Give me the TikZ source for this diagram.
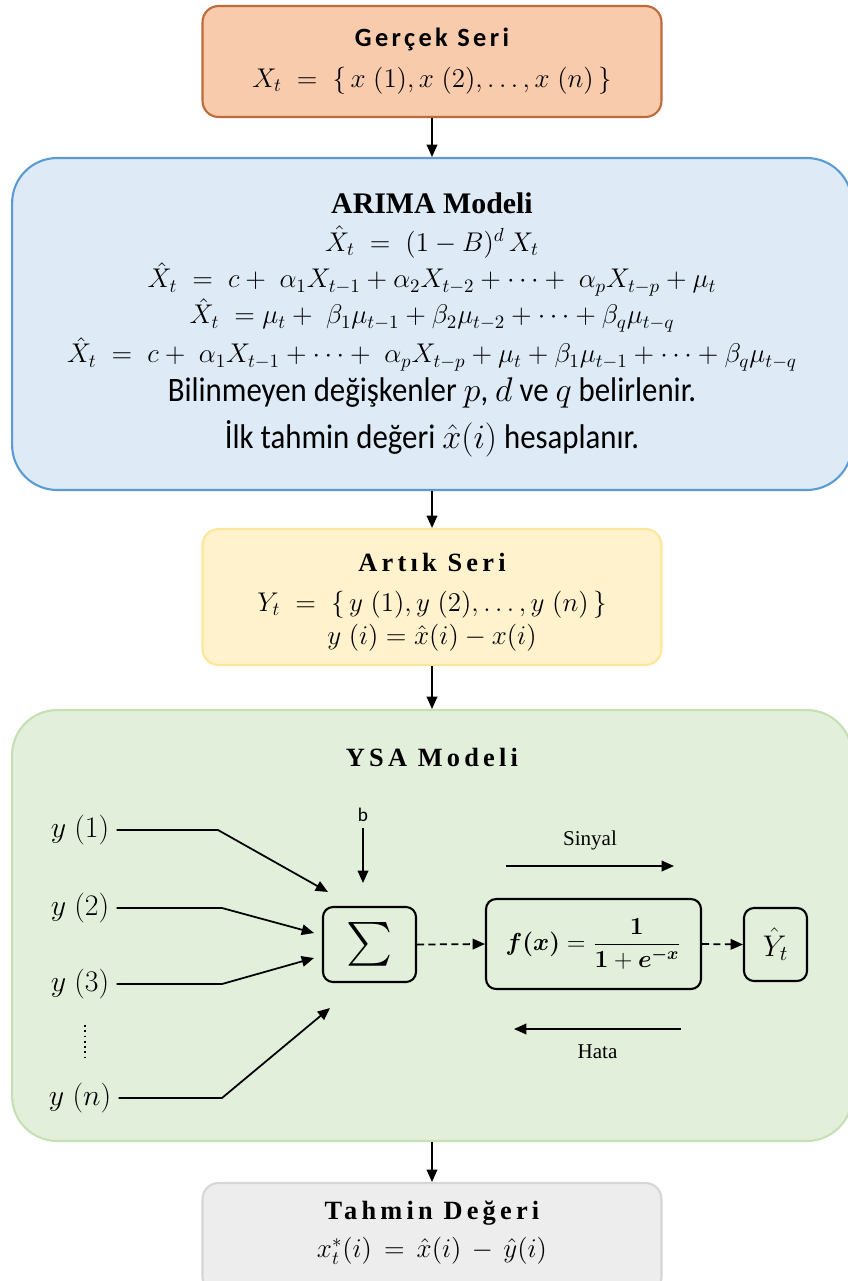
\RequirePackage{fix-cm}
\documentclass[tikz,border=0pt]{standalone}
\usepackage[no-math]{fontspec}
\usepackage{amsmath}
\usetikzlibrary{arrows.meta}

\setmainfont{Carlito}
\newfontfamily\titulosans[LetterSpace=13]{Carlito}
\newfontfamily\tituloserif[LetterSpace=16]{Liberation Serif}
\newfontfamily\serifa{Liberation Serif}
\newfontfamily\estreita[FakeStretch=0.9]{Carlito}

\definecolor{laranja}{HTML}{F8CBAD}
\definecolor{laranjaborda}{HTML}{C0693A}
\definecolor{azul}{HTML}{DEEBF7}
\definecolor{azulborda}{HTML}{5B9BD5}
\definecolor{amarelo}{HTML}{FFF2CC}
\definecolor{amareloborda}{HTML}{FFE699}
\definecolor{verde}{HTML}{E2EFDA}
\definecolor{verdeborda}{HTML}{C5E0B4}
\definecolor{cinza}{HTML}{EDEDED}
\definecolor{cinzaborda}{HTML}{D6D6D6}

\begin{document}
\begin{tikzpicture}[x=0.02cm, y=-0.02cm,
    caixa/.style={draw, line width=1.2pt, rounded corners=0.32cm, inner sep=0pt,
        minimum width=9.18cm},
    grande/.style={draw, line width=1.2pt, rounded corners=0.9cm, inner sep=0pt,
        minimum width=16.8cm},
    bloco/.style={draw, line width=1.2pt, rounded corners=0.2cm, inner sep=0pt},
    seta/.style={-{Triangle[length=7pt,width=6pt]}, line width=1pt},
    tracejada/.style={seta, dash pattern=on 4pt off 2.5pt},
    entrada/.style={inner sep=4pt, font=\fontsize{17}{20}\selectfont},
    eq/.style={inner sep=0pt, font=\fontsize{15.4}{18}\selectfont},
    texto/.style={inner sep=0pt, font=\estreita\fontsize{19.5}{22}\selectfont}]

    \useasboundingbox (0,0) rectangle (848,1281);

    % Serie real
    \node[caixa, fill=laranja, draw=laranjaborda, minimum height=2.22cm] (gercek) at (432,61.5) {};
    \node (gercektit) at (432,39) {\titulosans\bfseries\fontsize{15}{17}\selectfont Gerçek Seri};
    \node[eq] (gercekeq) at (432,81) {$X_t \;=\; \{\, x\;(1), x\;(2), \ldots, x\;(n) \,\}$};

    % Modelo ARIMA
    \node[grande, fill=azul, draw=azulborda, minimum height=6.64cm] (arima) at (432,324) {};
    \node (arimatit) at (432,203) {\serifa\bfseries\fontsize{17}{19}\selectfont ARIMA Modeli};
    \node[eq] (arimaeq1) at (432,242) {$\hat{X}_t \;=\; (1-B)^d\, X_t$};
    \node[eq] (arimaeq2) at (432,279) {$\hat{X}_t \;=\; c +\; \alpha_1 X_{t-1} + \alpha_2 X_{t-2} + \cdots +\; \alpha_p X_{t-p} + \mu_t$};
    \node[eq] (arimaeq3) at (432,315) {$\hat{X}_t \;= \mu_t +\; \beta_1 \mu_{t-1} + \beta_2 \mu_{t-2} + \cdots + \beta_q \mu_{t-q}$};
    \node[eq] (arimaeq4) at (432,354) {$\hat{X}_t \;=\; c +\; \alpha_1 X_{t-1} + \cdots +\; \alpha_p X_{t-p} + \mu_t + \beta_1 \mu_{t-1} + \cdots + \beta_q \mu_{t-q}$};
    \node[texto] (arimatx1) at (432,393) {Bilinmeyen değişkenler $p$, $d$ ve $q$ belirlenir.};
    \node[texto] (arimatx2) at (432,439) {İlk tahmin değeri $\hat{x}(i)$ hesaplanır.};

    % Serie residual
    \node[caixa, fill=amarelo, draw=amareloborda, minimum height=2.72cm] (artik) at (432,597) {};
    \node (artiktit) at (432,562) {\tituloserif\bfseries\fontsize{15}{17}\selectfont Artık Seri};
    \node[eq] (artikeq1) at (432,605) {$Y_t \;=\; \{\, y\;(1), y\;(2), \ldots, y\;(n) \,\}$};
    \node[eq] (artikeq2) at (432,638) {$y\;(i) = \hat{x}(i) - x(i)$};

    % Modelo YSA
    \node[grande, fill=verde, draw=verdeborda, minimum height=8.62cm] (ysa) at (432,925.5) {};
    \node (ysatit) at (432,757) {\tituloserif\bfseries\fontsize{15}{17}\selectfont YSA Modeli};

    % Entradas
    \node[entrada] (y1) at (80,830) {$y\;(1)$};
    \node[entrada] (y2) at (80,908) {$y\;(2)$};
    \node[entrada] (y3) at (80,984) {$y\;(3)$};
    \node[entrada] (yn) at (80,1098) {$y\;(n)$};
    \draw[dotted, line width=1pt] (85,1025) -- (85,1060);

    % Blocos do neuronio
    \node[bloco, minimum width=1.86cm, minimum height=1.5cm, font=\fontsize{24}{26}\selectfont] (soma) at (369.5,944.5) {$\textstyle\sum$};
    \node[bloco, minimum width=4.3cm, minimum height=1.8cm, font=\fontsize{14}{16}\selectfont] (fx) at (593.5,944) {$\boldsymbol{f(x)} = \displaystyle\frac{\mathbf{1}}{\mathbf{1}+\boldsymbol{e^{-x}}}$};
    \node[bloco, minimum width=1.26cm, minimum height=1.46cm, font=\fontsize{17}{20}\selectfont] (yhat) at (775.5,944.5) {$\hat{Y}_t$};

    % Pontas das setas de entrada
    \coordinate (p1) at (328,892);
    \coordinate (p2) at (314,933);
    \coordinate (p3) at (314,958);
    \coordinate (pn) at (330,1008);
    \draw[seta] (y1.east) -- (218,830) -- (p1);
    \draw[seta] (y2.east) -- (222,908) -- (p2);
    \draw[seta] (y3.east) -- (222,984) -- (p3);
    \draw[seta] (yn.east) -- (222,1098) -- (pn);

    % Bias
    \node[font=\fontsize{11}{13}\selectfont] (b) at (363,815) {b};
    \coordinate (pb) at (363,883);
    \draw[seta] (b.south) -- (pb);

    % Ligacoes tracejadas
    \draw[tracejada] (soma.east) -- (fx.west);
    \draw[tracejada] (fx.east) -- (yhat.west);

    % Sinal e erro
    \coordinate (sinA) at (506,866);
    \coordinate (sinB) at (674,866);
    \draw[seta] (sinA) -- node[above=5pt, font=\serifa\fontsize{12}{14}\selectfont] (sinyal) {Sinyal} (sinB);
    \coordinate (hataA) at (681,1029);
    \coordinate (hataB) at (514,1029);
    \draw[seta] (hataA) -- node[below=5pt, font=\serifa\fontsize{12}{14}\selectfont] (hata) {Hata} (hataB);

    % Valor previsto
    \node[caixa, fill=cinza, draw=cinzaborda, minimum height=2.2cm] (tahmin) at (432,1238) {};
    \node (tahmintit) at (432,1213) {\tituloserif\bfseries\fontsize{15}{17}\selectfont Tahmin Değeri};
    \node[eq] (tahmineq) at (432,1251) {$x_t^{*}(i) \,=\, \hat{x}(i) \,-\, \hat{y}(i)$};

    % Setas entre caixas
    \draw[seta] (gercek.south) -- (arima.north);
    \draw[seta] (arima.south) -- (artik.north);
    \draw[seta] (artik.south) -- (ysa.north);
    \draw[seta] (ysa.south) -- (tahmin.north);

\end{tikzpicture}
\end{document}
